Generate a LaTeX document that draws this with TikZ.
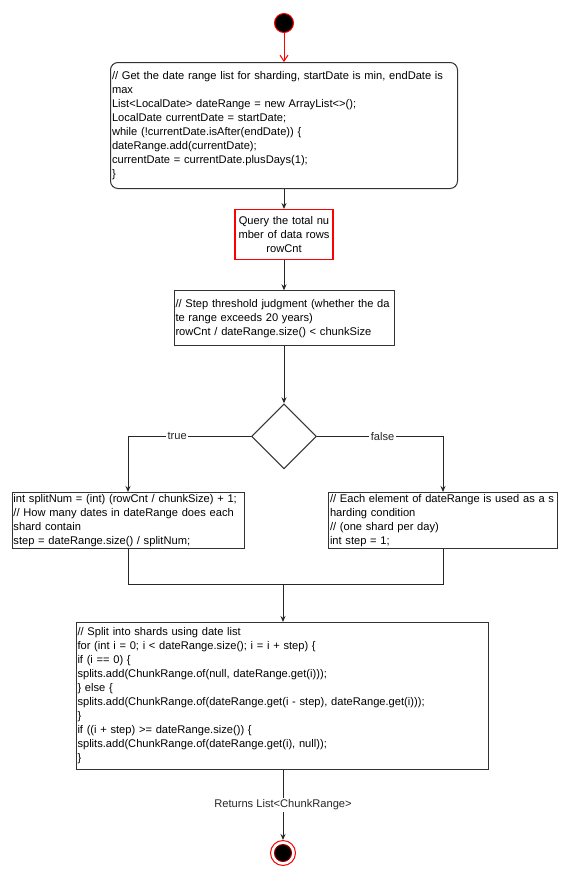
\documentclass[tikz,border=0pt]{standalone}
\usepackage{fontspec}
\setmainfont{Liberation Sans}
\usetikzlibrary{arrows.meta,positioning,shapes.geometric}
\newcommand{\pxu}{0.75pt}

\begin{document}
\begin{tikzpicture}[
        x=0.75pt, y=-0.75pt,
        line width=0.75pt,
        font=\fontsize{8.35}{10.5}\selectfont,
        codebox/.style={draw=black!80, rectangle, align=left, inner xsep=1.5*\pxu, inner ysep=0pt},
        querybox/.style={rectangle, draw=red, line width=1pt, align=center, inner sep=0pt,
            minimum width=98*\pxu, minimum height=50*\pxu, text width=96*\pxu},
        decision/.style={draw=black!80, diamond, aspect=1, inner sep=0pt, minimum size=65*\pxu},
        startdot/.style={draw=red, fill=black, circle, inner sep=0pt, minimum size=19*\pxu},
        stopring/.style={draw=red, fill=white, circle, inner sep=0pt, minimum size=25*\pxu},
        stopdot/.style={draw=red!60!black, fill=black, circle, inner sep=0pt, minimum size=17*\pxu},
        lbl/.style={fill=white, inner sep=1pt},
        >={Stealth[length=6*\pxu, width=5*\pxu]}
    ]
        \useasboundingbox (0,0) rectangle (570,872);
        \node[startdot] (start) at (284,23) {};
        \node[codebox, rounded corners=7.5*\pxu, minimum width=347*\pxu, minimum height=126*\pxu,
            text width=344*\pxu, below=29*\pxu of start] (dates) {%
            \mbox{// Get the date range list for sharding, startDate is min, endDate is}\\
            max\\
            List<LocalDate> dateRange = new ArrayList<>();\\
            LocalDate currentDate = startDate;\\
            while (!currentDate.isAfter(endDate)) \{\\
            dateRange.add(currentDate);\\
            currentDate = currentDate.plusDays(1);\\
            \}};
        \node[querybox, below=20*\pxu of dates] (query) {Query the total nu\\mber of data rows\\rowCnt};
        \node[codebox, minimum width=220*\pxu, minimum height=55*\pxu, text width=217*\pxu,
            below=30*\pxu of query] (judge) {%
            \mbox{// Step threshold judgment (whether the da}\\
            te range exceeds 20 years)\\
            rowCnt / dateRange.size() < chunkSize};
        \node[decision, below=57*\pxu of judge] (cond) {};
        \node[codebox, anchor=north, minimum width=232*\pxu, minimum height=56*\pxu,
            text width=229*\pxu] (split) at (128,492) {%
            int splitNum = (int) (rowCnt / chunkSize) + 1;\\
            \mbox{// How many dates in dateRange does each}\\
            shard contain\\
            step = dateRange.size() / splitNum;};
        \node[codebox, anchor=north, minimum width=229*\pxu, minimum height=56*\pxu,
            text width=226*\pxu] (single) at (443,492) {%
            \mbox{// Each element of dateRange is used as a s}\\
            harding condition\\
            // (one shard per day)\\
            int step = 1;};
        \coordinate (merge) at (283,584);
        \node[codebox, anchor=north, minimum width=412*\pxu, minimum height=147*\pxu,
            text width=409*\pxu] (loop) at (282,622) {%
            // Split into shards using date list\\
            for (int i = 0; i < dateRange.size(); i = i + step) \{\\
            if (i == 0) \{\\
            splits.add(ChunkRange.of(null, dateRange.get(i)));\\
            \} else \{\\
            splits.add(ChunkRange.of(dateRange.get(i - step), dateRange.get(i)));\\
            \}\\
            if ((i + step) >= dateRange.size()) \{\\
            splits.add(ChunkRange.of(dateRange.get(i), null));\\
            \}};
        \node[stopring] (stop) at (283,853) {};
        \node[stopdot] at (stop) {};
        \draw[-{Straight Barb[length=6*\pxu, width=8*\pxu]}, red] (start) -- (dates);
        \draw[->, black!85] (dates) -- (query);
        \draw[->, black!85] (query) -- (judge);
        \draw[->, black!85] (judge) -- (cond);
        \draw[->, black!85] (cond.west) -| node[lbl, pos=0.3] {true} (split.north);
        \draw[->, black!85] (cond.east) -| node[lbl, pos=0.26] {false} (single.north);
        \draw[black!85] (split.south) |- (merge);
        \draw[black!85] (single.south) |- (merge);
        \draw[->, black!85] (merge) -- (merge |- loop.north);
        \draw[->, black!85] (loop.south -| stop) -- node[lbl] {Returns List<ChunkRange>} (stop);
    \end{tikzpicture}
\end{document}
